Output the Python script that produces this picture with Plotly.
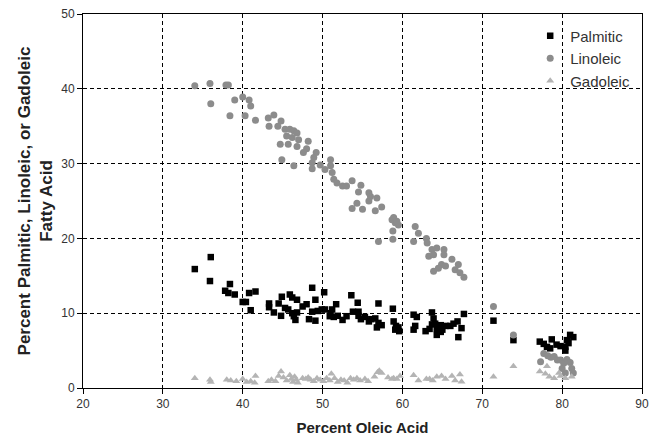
import plotly.graph_objects as go

# ---- data ----
palmitic_x = [34.0, 36.0, 35.9, 38.4, 37.8, 38.2, 39.0, 40.8, 41.6, 40.0, 40.4, 41.0, 43.3, 43.3, 43.9,
              44.5, 44.9, 44.8, 45.3, 45.9, 46.2, 46.8, 45.7, 46.2, 46.4, 46.8, 46.6, 47.5, 48.0, 48.3,
              48.7, 49.1, 48.7, 49.1, 49.4, 49.9, 50.2, 50.3, 51.0, 50.9, 51.2, 51.7, 51.4, 51.9, 52.5,
              53.0, 53.6, 53.8, 54.4, 54.5, 54.5, 54.8, 55.3, 55.8, 56.1, 56.6, 57.0, 57.0, 56.8, 57.4,
              58.8, 58.9, 59.2, 59.5, 59.1, 59.6, 61.4, 61.8, 61.4, 61.6, 62.9, 63.4, 63.7, 63.7, 63.9,
              64.1, 64.3, 64.3, 64.8, 65.0, 65.4, 64.8, 66.0, 66.4, 66.9, 67.4, 67.0, 67.7, 71.4, 73.9,
              77.2, 77.7, 78.1, 78.7, 78.5, 79.3, 79.8, 80.4, 80.4, 80.8, 81.0, 81.4, 80.6]
palmitic_y = [15.9, 17.5, 14.3, 13.9, 13.0, 12.7, 12.5, 12.7, 12.9, 11.5, 11.5, 10.4, 11.3, 10.8, 10.1,
              11.3, 12.2, 9.65, 10.7, 12.5, 12.1, 11.8, 10.5, 10.0, 9.6, 10.1, 9.1, 10.9, 11.2, 9.2,
              13.4, 11.8, 10.2, 9.0, 10.3, 10.5, 12.8, 10.5, 10.0, 9.6, 10.5, 11.2, 9.5, 9.65, 9.1,
              9.6, 12.4, 10.2, 11.4, 10.2, 9.65, 9.2, 9.5, 8.9, 9.2, 9.3, 11.3, 8.7, 8.1, 8.4,
              10.6, 8.9, 8.3, 8.1, 7.8, 7.6, 9.8, 9.5, 7.8, 8.3, 7.6, 7.9, 8.5, 10.1, 9.3,
              8.6, 7.9, 7.1, 8.4, 7.8, 8.3, 7.5, 8.3, 8.6, 8.9, 8.0, 6.8, 9.9, 9.0, 6.4,
              6.2, 5.9, 5.5, 6.5, 5.3, 5.8, 5.6, 5.5, 5.0, 6.0, 7.1, 6.8, 6.4]

linoleic_x = [34.0, 35.9, 36.0, 37.9, 38.2, 38.4, 39.0, 40.0, 40.8, 41.0, 40.3, 41.6, 43.2, 43.9, 43.3,
              44.4, 44.8, 45.3, 45.9, 46.4, 46.8, 45.5, 46.2, 47.0, 48.2, 44.7, 45.7, 46.8, 48.0, 47.6,
              49.2, 48.9, 44.9, 46.4, 48.7, 48.7, 49.7, 50.3, 51.0, 51.0, 51.2, 51.4, 51.8, 52.5, 53.0,
              53.7, 54.8, 54.5, 55.8, 56.0, 54.3, 53.7, 55.0, 55.8, 56.8, 56.6, 57.4, 57.0, 58.7, 59.1,
              59.5, 58.9, 59.3, 58.8, 58.8, 61.6, 62.0, 61.4, 63.0, 63.1, 63.7, 64.3, 65.2, 63.3, 63.9,
              65.2, 66.2, 64.9, 64.5, 63.9, 65.4, 67.0, 66.6, 67.2, 67.7, 71.4, 73.9,
              77.7, 78.2, 78.6, 79.0, 77.3, 79.4, 79.8, 80.2, 80.6, 81.0, 81.2, 80.4, 81.4, 80.0]
linoleic_y = [40.4, 40.7, 38.0, 40.5, 40.5, 36.4, 38.5, 38.9, 38.5, 37.7, 36.4, 35.8, 36.1, 36.5, 35.0,
              35.0, 35.7, 34.6, 34.6, 34.4, 34.1, 33.7, 33.5, 33.2, 33.0, 32.6, 32.6, 32.3, 32.0, 31.5,
              31.5, 30.8, 30.5, 29.7, 30.1, 29.3, 29.8, 29.2, 30.5, 29.7, 28.8, 27.9, 27.4, 27.0, 27.0,
              27.7, 27.1, 26.2, 26.1, 25.6, 24.7, 24.0, 23.9, 25.0, 25.4, 23.7, 24.2, 19.6, 22.5, 22.1,
              21.8, 22.8, 22.3, 21.0, 19.9, 21.6, 20.7, 19.6, 20.0, 19.4, 18.5, 18.7, 18.5, 17.6, 17.8,
              17.8, 17.2, 16.5, 16.0, 15.6, 16.3, 16.5, 15.8, 15.4, 14.8, 10.9, 7.1,
              4.6, 4.3, 4.1, 4.2, 3.5, 3.75, 3.75, 3.3, 3.8, 3.4, 2.6, 2.0, 2.0, 2.6]

gadoleic_x = [34.0, 35.9, 36.0, 38.0, 38.5, 39.2, 40.0, 40.5, 41.0, 41.5, 41.6, 43.2, 43.6, 44.1, 44.5,
              44.8, 45.1, 45.5, 45.9, 46.1, 46.3, 46.5, 46.7, 46.9, 47.5, 47.9, 48.2, 48.5, 48.9, 49.3,
              49.7, 50.1, 50.5, 50.9, 51.1, 51.5, 51.9, 52.3, 52.7, 53.1, 53.5, 53.9, 54.3, 54.7, 55.3,
              55.7, 56.5, 56.9, 57.1, 58.2, 58.7, 57.4, 58.9, 59.3, 59.7, 61.4, 62.0, 63.0, 63.4, 63.8,
              64.3, 64.9, 65.4, 66.2, 66.6, 67.2, 67.4, 71.4, 73.9,
              77.2, 77.9, 78.1, 78.4, 79.0, 79.8, 80.4, 81.2, 79.6]
gadoleic_y = [1.3, 1.1, 0.8, 1.1, 1.0, 0.9, 1.2, 0.8, 0.9, 0.7, 1.6, 0.9, 1.1, 0.9, 1.6,
              2.2, 1.4, 1.0, 1.7, 1.2, 0.8, 1.5, 1.1, 0.7, 1.3, 1.2, 1.4, 1.1, 0.9, 1.3,
              1.1, 0.9, 1.3, 1.0, 1.9, 1.3, 0.8, 1.1, 1.0, 0.7, 1.3, 1.1, 1.3, 1.0, 1.2,
              0.9, 1.5, 2.1, 2.3, 1.4, 1.2, 2.0, 1.3, 1.2, 1.6, 1.7, 1.0, 1.2, 1.2, 1.0,
              1.5, 1.6, 1.2, 1.6, 1.0, 1.8, 0.85, 1.5, 2.9,
              2.2, 1.9, 2.9, 1.5, 1.3, 1.6, 1.3, 1.5, 2.0]

x_ticks = [20, 30, 40, 50, 60, 70, 80, 90]
y_ticks = [0, 10, 20, 30, 40, 50]

FONT = "Liberation Sans, Arial, sans-serif"

fig = go.Figure()
fig.add_trace(go.Scatter(x=palmitic_x, y=palmitic_y, mode="markers", name="Palmitic",
                         marker=dict(symbol="square", size=6.5, color="#000000")))
fig.add_trace(go.Scatter(x=linoleic_x, y=linoleic_y, mode="markers", name="Linoleic",
                         marker=dict(symbol="circle", size=7, color="#8c8c8c")))
fig.add_trace(go.Scatter(x=gadoleic_x, y=gadoleic_y, mode="markers", name="Gadoleic",
                         marker=dict(symbol="triangle-up", size=7, color="#b4b4b4")))

axis_common = dict(
    showgrid=True, gridcolor="#000000", gridwidth=1, griddash="4px,3px",
    showline=True, linecolor="#000000", linewidth=1, mirror=True,
    ticks="outside", ticklen=5, tickcolor="#000000",
    tickfont=dict(family=FONT, size=12, color="#333333"),
    zeroline=False, automargin=False,
)

fig.update_layout(
    width=653, height=438,
    margin=dict(l=83, r=11, t=14, b=50),
    paper_bgcolor="white", plot_bgcolor="white",
    font=dict(family=FONT, color="#222222"),
    xaxis=dict(range=[20, 90], tickvals=x_ticks,
               title=dict(text="<b>Percent Oleic Acid</b>", font=dict(family=FONT, size=15, color="#222222"),
                          standoff=12),
               **axis_common),
    yaxis=dict(range=[0, 50], tickvals=y_ticks,
               title=dict(text="<b>Percent Palmitic, Linoleic, or Gadoleic<br>Fatty Acid</b>",
                          font=dict(family=FONT, size=17, color="#222222"), standoff=4),
               **axis_common),
    legend=dict(x=0.80, y=0.985, xanchor="left", yanchor="top",
                bgcolor="rgba(0,0,0,0)", font=dict(family=FONT, size=15, color="#333333"),
                itemsizing="trace", tracegroupgap=0),
    showlegend=True,
)

fig.write_html("out.html", config={"displayModeBar": False})

# remove the default page margin so the figure sits at the window origin
with open("out.html", "r", encoding="utf-8") as f:
    html = f.read()
html = html.replace("<head>", "<head><style>html,body{margin:0;padding:0;overflow:hidden;}</style>", 1)
with open("out.html", "w", encoding="utf-8") as f:
    f.write(html)
